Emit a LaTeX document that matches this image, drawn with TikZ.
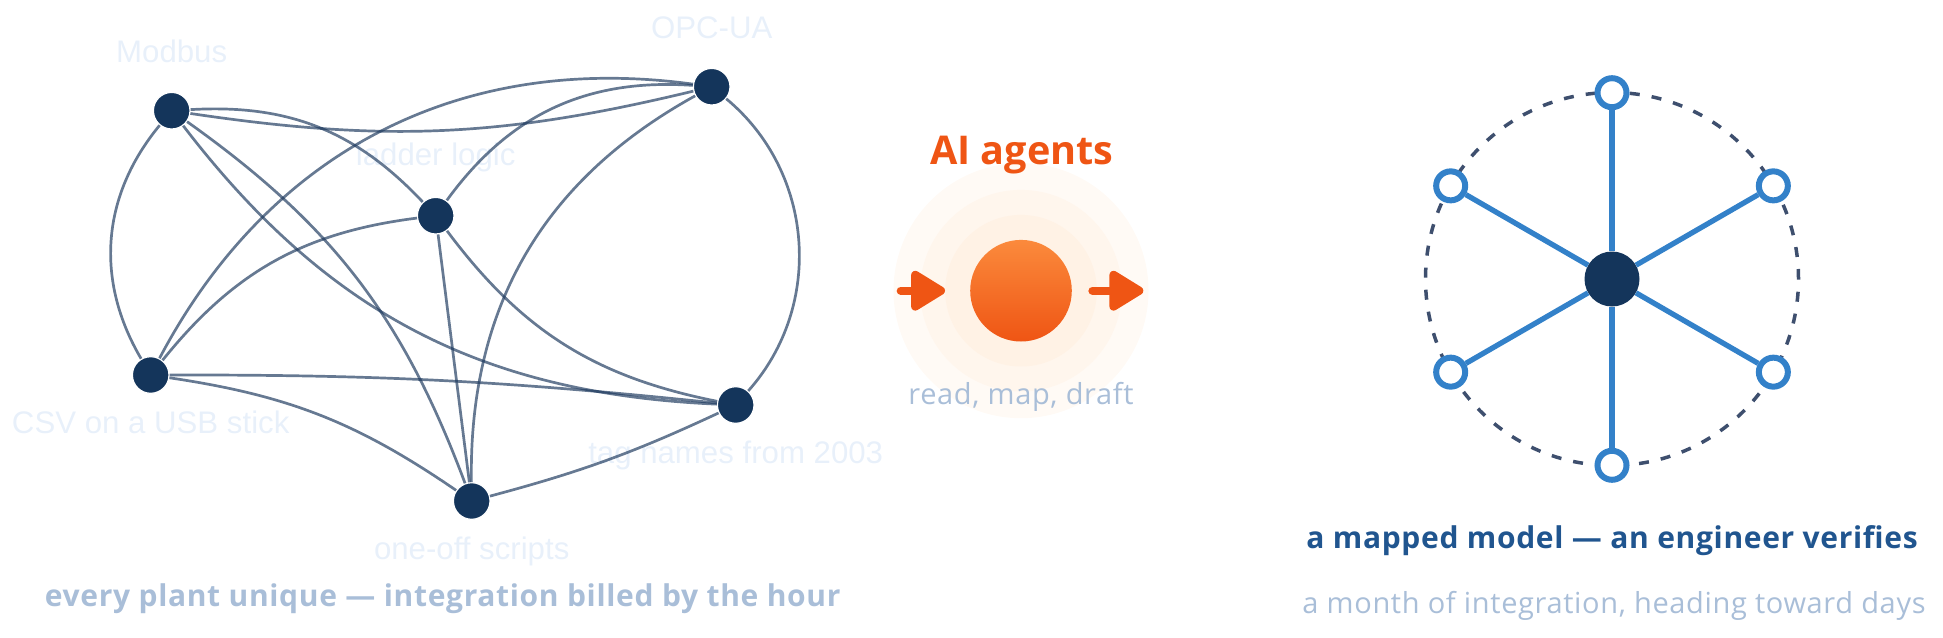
\documentclass[tikz,border=0pt]{standalone}
\usepackage{fontspec}
\setmainfont{Open Sans}[LetterSpace = 2.2]
\newfontfamily\labelfont{Liberation Sans}
\usetikzlibrary{arrows.meta}

\definecolor{navy}{HTML}{14355B}
\definecolor{wirecol}{HTML}{1E3A5F}
\definecolor{haze}{HTML}{E8F0FA}
\definecolor{mutedblue}{HTML}{A9BED8}
\definecolor{deepblue}{HTML}{20558F}
\definecolor{agentorange}{HTML}{EF5514}
\definecolor{agentlight}{HTML}{FB8A3C}
\definecolor{spokeblue}{HTML}{3381C9}
\definecolor{ringgrey}{HTML}{3E4F6E}

\begin{document}
\begin{tikzpicture}[x = 1pt, y = 1pt,
    plant/.style = {circle, fill = navy, draw = white, line width = 1.2pt, minimum size = 36.6pt, inner sep = 0pt},
    wire/.style = {draw = wirecol, draw opacity = 0.68, line width = 2.7pt},
    tag/.style = {font = \labelfont\fontsize{31.2}{36}\selectfont, text = haze, inner sep = 0pt, outer sep = 0pt, text height = 22.7pt, text depth = 0pt},
    tagabove/.style = {label = {[tag, label distance = 29pt]above:#1}},
    tagbelow/.style = {label = {[tag, label distance = 17pt]below:#1}},
    caption/.style = {font = \fontsize{30}{34}\selectfont\bfseries, inner sep = 0pt, anchor = base},
    subcaption/.style = {font = \fontsize{29}{32}\selectfont, text = mutedblue, inner sep = 0pt, anchor = base},
    push/.style = {draw = agentorange, fill = agentorange, line width = 8.3pt, line cap = round, -{Triangle[length = 38pt, width = 44pt, round]}},
    hub/.style = {circle, fill = navy, minimum size = 55pt, inner sep = 0pt},
    leaf/.style = {circle, fill = white, draw = spokeblue, line width = 6pt, minimum size = 29pt, inner sep = 0pt},
    spoke/.style = {draw = spokeblue, line width = 5.3pt}]

  \path[use as bounding box] (0,-637) rectangle (1943,0);

  % the tangle
  \node[plant, tagabove = Modbus]              (M) at (171.7,-110.7) {};
  \node[plant, tagabove = OPC-UA]              (O) at (711.7,-86.7) {};
  \node[plant, label = {[tag, label distance = 31pt]above:ladder logic}] (L) at (435.7,-215.7) {};
  \node[plant, tagbelow = CSV on a USB stick]  (C) at (150.7,-375) {};
  \node[plant, tagbelow = tag names from 2003] (T) at (735.7,-405) {};
  \node[plant, tagbelow = one-off scripts]     (S) at (471.7,-501) {};

  \path[wire] (M) edge[bend left = 25]  (L)
              (M) edge[bend right = 11] (O)
              (M) edge[bend right = 35] (C)
              (M) edge[bend left = 17]  (S)
              (M) edge[bend right = 25] (T)
              (O) edge[bend right = 35] (C)
              (O) edge[bend right = 29] (L)
              (O) edge[bend right = 31] (S)
              (O) edge[bend left = 46]  (T)
              (L) edge[bend right = 22] (C)
              (L) edge                  (S)
              (L) edge[bend right = 21] (T)
              (C) edge[bend left = 3]   (T)
              (C) edge[bend left = 13]  (S)
              (S) edge[bend right = 5]  (T);

  \node[caption, text = mutedblue] (left caption) at (442.7,-606.7) {every plant unique — integration billed by the hour};

  % the agents
  \coordinate (ai) at (1021,-290.7);
  \fill[orange!4]  (ai) circle (127.5);
  \fill[orange!7]  (ai) circle (100.8);
  \fill[orange!10] (ai) circle (75.8);
  \node[circle, minimum size = 101.6pt, inner sep = 0pt, top color = agentlight, bottom color = agentorange] (agent) at (ai) {};

  \coordinate (in start)  at (900.8,-290.7);
  \coordinate (in end)    at (945,-290.7);
  \coordinate (out start) at (1092.5,-290.7);
  \coordinate (out end)   at (1143.3,-290.7);
  \draw[push] (in start) -- (in end);
  \draw[push] (out start) -- (out end);

  \node[font = \fontsize{39.6}{44}\selectfont\bfseries\addfontfeature{LetterSpace = 0}, text = agentorange, inner sep = 0pt, anchor = base] (agent title) at (1021.7,-164.3) {AI agents};
  \node[subcaption] (agent note) at (1021,-404) {read, map, draft};

  % the model
  \coordinate (centre) at (1612,-279);
  \draw[ringgrey, line width = 3.5pt, dash pattern = on 10pt off 12.1pt] (centre) circle (186.5);
  \node[hub] (model) at (centre) {};
  \foreach \k in {0,...,5}
    \node[leaf] (leaf\k) at ([shift = {(90+60*\k:186.3)}]centre) {};
  \foreach \k in {0,...,5}
    \draw[spoke] (model) -- (leaf\k);

  \node[caption, text = deepblue] (right caption) at (1612,-548.3) {a mapped model — an engineer verifies};
  \node[subcaption] (right note) at (1614,-613.3) {a month of integration, heading toward days};
\end{tikzpicture}
\end{document}
